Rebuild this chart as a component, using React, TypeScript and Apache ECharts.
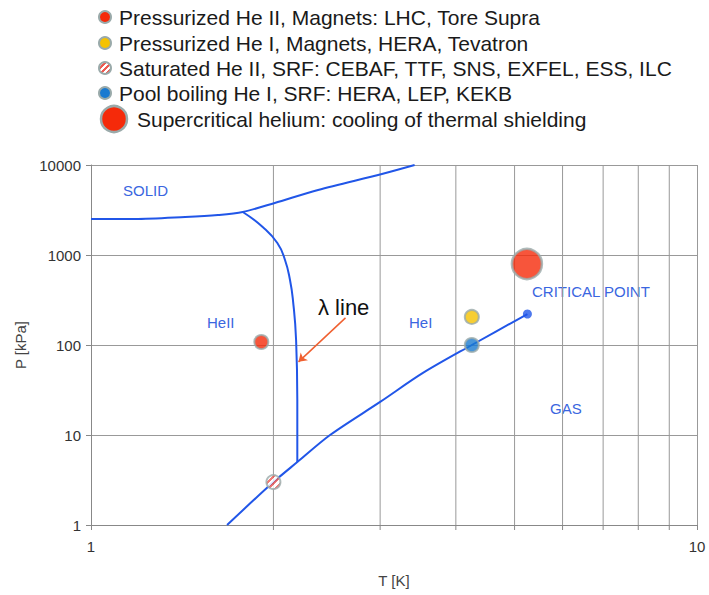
import React, { useEffect, useRef } from "react";
import * as echarts from "echarts";

// Phase boundaries of helium (T [K], P [kPa])
const meltingCurve: [number, number][] = [
  [1.0, 2512], [1.18, 2512], [1.43, 2644], [1.62, 2783], [1.78, 3006],
  [2.01, 3783], [2.37, 5275], [3.02, 7943], [3.42, 10000],
];
const lambdaLine: [number, number][] = [
  [1.78, 3006], [1.92, 2048], [2.03, 1359], [2.09, 880], [2.13, 528],
  [2.154, 316], [2.18, 113], [2.19, 24.5], [2.19, 5.0],
];
const vaporCurve: [number, number][] = [
  [1.677, 1.0], [2.0, 3.0], [2.19, 5.0], [2.48, 10], [3.0, 23.3],
  [3.53, 48.9], [4.25, 100], [5.25, 221],
];
const criticalPoint: [number, number][] = [[5.25, 221]];
const pressurizedHeII: [number, number][] = [[1.91, 108]];
const pressurizedHeI: [number, number][] = [[4.25, 205]];
const saturatedHeII: [number, number][] = [[2.0, 3.0]];
const poolBoilingHeI: [number, number][] = [[4.25, 100]];
const supercritical: [number, number][] = [[5.24, 794]];
const minorT = [2, 3, 4, 5, 6, 7, 8, 9];
const lambdaArrow = { from: [2.63, 200], to: [2.2, 65] };

const legendItems = [
  "Pressurized He II, Magnets: LHC, Tore Supra",
  "Pressurized He I, Magnets, HERA, Tevatron",
  "Saturated He II, SRF: CEBAF, TTF, SNS, EXFEL, ESS, ILC",
  "Pool boiling He I, SRF: HERA, LEP, KEKB",
  "Supercritical helium: cooling of thermal shielding",
];

const FONT = "'Liberation Sans', Arial, Helvetica, sans-serif";
const RED = "#f52a0a";
const YELLOW = "#f5c200";
const BLUE = "#1a7ad0";
const LINE = "#2156e8";
const LABEL = "#3a66e0";
const RING = "#9aaaaa";

function stripes() {
  const stops: { offset: number; color: string }[] = [];
  const n = 8;
  for (let i = 0; i < n; i++) {
    const c = i % 2 === 0 ? "#ee5a52" : "#ffffff";
    stops.push({ offset: i / n, color: c });
    stops.push({ offset: (i + 1) / n, color: c });
  }
  return new echarts.graphic.LinearGradient(0, 0, 1, 1, stops);
}

export default function App() {
  const ref = useRef<HTMLDivElement>(null);
  useEffect(() => {
    if (!ref.current) return;
    const chart = echarts.init(ref.current, null, { renderer: "svg" });
    const legendColors = [RED, YELLOW, null, BLUE, RED];
    const legendGraphics: any[] = [];
    legendItems.forEach((t, i) => {
      const big = i === 4;
      const cy = [17, 43, 68, 93, 119][i];
      legendGraphics.push({
        type: "circle",
        shape: { cx: big ? 114 : 105, cy, r: big ? 13 : 6 },
        style: {
          fill: legendColors[i] ?? stripes(),
          stroke: RING,
          lineWidth: big ? 2.5 : 2,
        },
      });
      legendGraphics.push({
        type: "text",
        x: big ? 137 : 119,
        y: cy,
        style: {
          text: t,
          fill: "#1a1a1a",
          font: `21px ${FONT}`,
          verticalAlign: "middle",
        },
      });
    });
    const txt = (text: string, x: number, y: number, size: number, color: string) => ({
      type: "text",
      x,
      y,
      style: { text, fill: color, font: `${size}px ${FONT}`, verticalAlign: "middle" },
    });

    const scatterStyle = (color: any, size: number, z = 5) => ({
      type: "scatter",
      symbol: "circle",
      symbolSize: size,
      z,
      itemStyle: { color, borderColor: RING, borderWidth: 2 },
    });

    chart.setOption({
      animation: false,
      textStyle: { fontFamily: FONT },
      grid: { left: 91, top: 165, right: 12, bottom: 70 },
      xAxis: {
        type: "log",
        logBase: 10,
        min: 1,
        max: 10,
        name: "T [K]",
        nameLocation: "middle",
        nameGap: 48,
        nameTextStyle: { color: "#444", fontSize: 15 },
        axisLine: { lineStyle: { color: "#888" } },
        axisTick: { show: true, length: 5, lineStyle: { color: "#888" } },
        axisLabel: { color: "#333", fontSize: 15, margin: 14, formatter: (v: number) => String(v) },
        splitLine: { show: true, lineStyle: { color: "#999" } },
      },
      yAxis: {
        type: "log",
        logBase: 10,
        min: 1,
        max: 10000,
        name: "P [kPa]",
        nameLocation: "middle",
        nameGap: 62,
        nameTextStyle: { color: "#444", fontSize: 15 },
        axisLine: { show: true, lineStyle: { color: "#888" } },
        axisTick: { show: true, length: 5, lineStyle: { color: "#888" } },
        axisLabel: { color: "#333", fontSize: 15, margin: 10, formatter: (v: number) => String(v) },
        splitLine: { show: true, lineStyle: { color: "#999" } },
      },
      series: [
        {
          type: "custom",
          clip: false,
          z: 1,
          data: minorT.map((t) => [t]),
          renderItem: (params: any, api: any) => {
            const t = api.value(0);
            const top = api.coord([t, 10000]);
            const bot = api.coord([t, 1]);
            return {
              type: "group",
              children: [
                {
                  type: "line",
                  shape: { x1: top[0], y1: top[1], x2: bot[0], y2: bot[1] },
                  style: { stroke: "#999", lineWidth: 1 },
                },
                {
                  type: "line",
                  shape: { x1: bot[0], y1: bot[1], x2: bot[0], y2: bot[1] + 5 },
                  style: { stroke: "#888", lineWidth: 1 },
                },
              ],
            };
          },
        },
        {
          type: "line",
          data: meltingCurve,
          symbol: "none",
          smooth: 0.3,
          smoothMonotone: "none",
          lineStyle: { color: LINE, width: 2 },
          z: 3,
        },
        {
          type: "line",
          data: lambdaLine,
          symbol: "none",
          smooth: 0.5,
          smoothMonotone: "none",
          lineStyle: { color: LINE, width: 2 },
          z: 3,
          markLine: {
            silent: true,
            symbol: ["none", "arrow"],
            symbolSize: 8,
            label: { show: false },
            lineStyle: { color: "#f06030", width: 1.5, type: "solid" },
            data: [[{ coord: lambdaArrow.from }, { coord: lambdaArrow.to }]],
          },
        },
        {
          type: "line",
          data: vaporCurve,
          symbol: "none",
          smooth: 0.3,
          smoothMonotone: "none",
          lineStyle: { color: LINE, width: 2 },
          z: 3,
        },
        {
          type: "scatter",
          data: criticalPoint,
          symbolSize: 9,
          itemStyle: { color: LINE },
          z: 4,
        },
        { ...scatterStyle(RED, 14), data: pressurizedHeII },
        { ...scatterStyle(YELLOW, 14), data: pressurizedHeI },
        { ...scatterStyle(stripes(), 14), data: saturatedHeII },
        { ...scatterStyle(BLUE, 14), data: poolBoilingHeI },
        {
          ...scatterStyle(RED, 30),
          itemStyle: { color: RED, borderColor: RING, borderWidth: 2.5 },
          data: supercritical,
        },
      ],
      graphic: [
        ...legendGraphics,
        txt("SOLID", 123, 190, 15, LABEL),
        txt("HeII", 207, 322, 15, LABEL),
        txt("HeI", 409, 322, 15, LABEL),
        txt("CRITICAL POINT", 532, 291, 15, LABEL),
        txt("GAS", 550, 408, 15, LABEL),
        txt("λ line", 318, 307, 22, "#111"),
      ],
    });
    return () => chart.dispose();
  }, []);
  return (
    <div
      ref={ref}
      style={{ position: "absolute", left: 0, top: 0, width: 709, height: 595 }}
    />
  );
}
